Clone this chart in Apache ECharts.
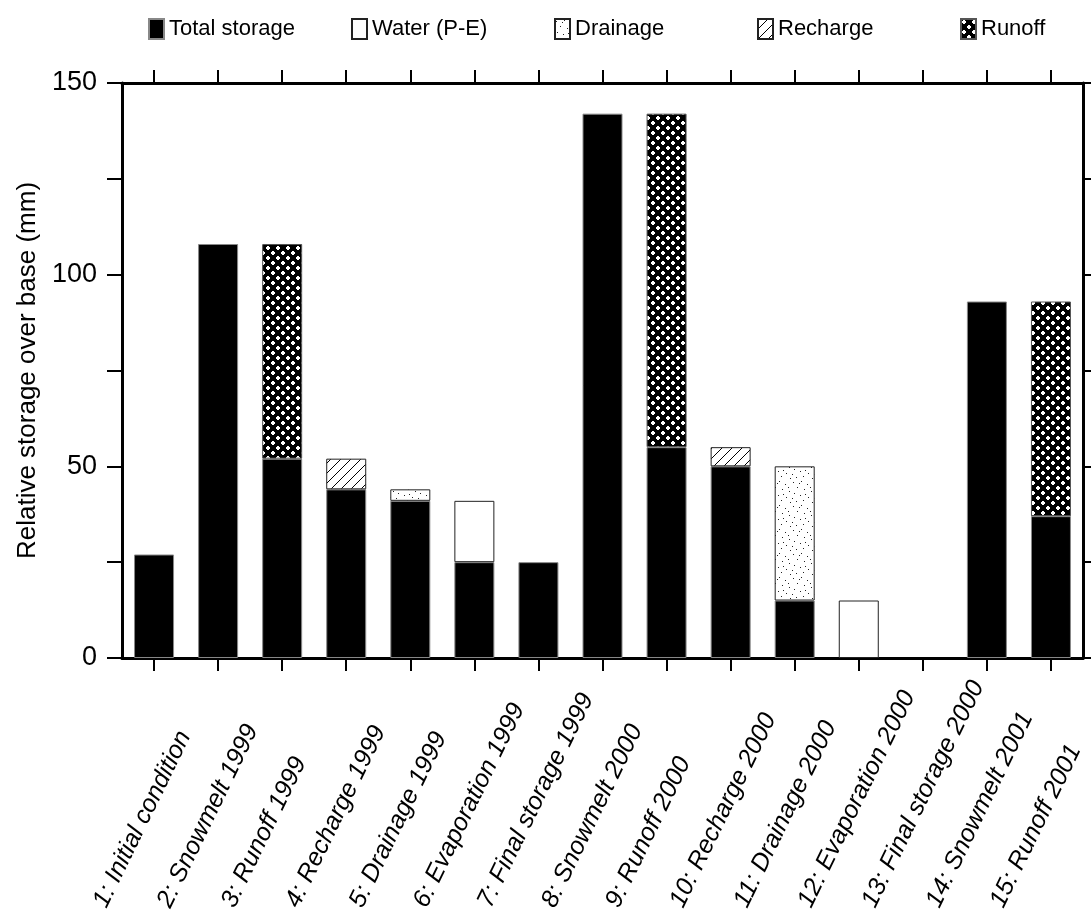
<!DOCTYPE html>
<html>
<head>
<meta charset="utf-8">
<script src="https://cdn.jsdelivr.net/npm/echarts@6/dist/echarts.min.js"></script>
<style>
  html, body { margin: 0; padding: 0; background: #fff; }
  #chart { width: 1091px; height: 919px; }
</style>
</head>
<body>
<div id="chart"></div>
<script>
// Water balance stages (mm over base storage)
const categories = [
  '1: Initial condition', '2: Snowmelt 1999', '3: Runoff 1999', '4: Recharge 1999',
  '5: Drainage 1999', '6: Evaporation 1999', '7: Final storage 1999', '8: Snowmelt 2000',
  '9: Runoff 2000', '10: Recharge 2000', '11: Drainage 2000', '12: Evaporation 2000',
  '13: Final storage 2000', '14: Snowmelt 2001', '15: Runoff 2001'
];
const seriesNames = ['Total storage', 'Water (P-E)', 'Drainage', 'Recharge', 'Runoff'];
const totalStorage = [27, 108, 52, 44, 41, 25, 25, 142, 55, 50, 15, null, null, 93, 37];
const waterPE      = [null, null, null, null, null, 16, null, null, null, null, null, 15, null, null, null];
const drainage     = [null, null, null, null, 3, null, null, null, null, null, 35, null, null, null, null];
const recharge     = [null, null, null, 8, null, null, null, null, null, 5, null, null, null, null, null];
const runoff       = [null, null, 56, null, null, null, null, null, 87, null, null, null, null, null, 56];
const yTicks = [0, 50, 100, 150];

// Fill patterns drawn on small tiles
function tile(w, h, draw) {
  const c = document.createElement('canvas');
  c.width = w; c.height = h;
  const g = c.getContext('2d');
  draw(g, w, h);
  return { image: c, repeat: 'repeat' };
}
// white diamonds on black, staggered rows
const runoffFill = tile(10, 10, (g) => {
  g.fillStyle = '#000'; g.fillRect(0, 0, 10, 10);
  g.fillStyle = '#fff';
  [[1, 1], [6, 6]].forEach(([x, y]) => {
    g.fillRect(x + 1, y, 2, 4);
    g.fillRect(x, y + 1, 4, 2);
  });
});
const rechargeFill = tile(10, 10, (g) => {
  g.fillStyle = '#fff'; g.fillRect(0, 0, 10, 10);
  g.strokeStyle = '#000'; g.lineWidth = 1;
  g.beginPath();
  g.moveTo(-1, 11); g.lineTo(11, -1);
  g.moveTo(-6, 6); g.lineTo(6, -6);
  g.moveTo(4, 16); g.lineTo(16, 4);
  g.stroke();
});
const stipple = [[1, 2], [9, 1], [15, 4], [5, 7], [12, 9], [19, 11], [2, 13], [8, 15],
                 [16, 17], [11, 20], [4, 21], [20, 22], [7, 3], [18, 7], [13, 14], [0, 18]];
const drainageFill = tile(22, 24, (g) => {
  g.fillStyle = '#fff'; g.fillRect(0, 0, 22, 24);
  g.fillStyle = '#222';
  stipple.forEach(([x, y]) => g.fillRect(x, y, 1, 1));
});

const FONT = 'Liberation Sans, Arial, sans-serif';
const barW = 40;

function barSeries(name, data, fill, border) {
  return {
    name, type: 'bar', stack: 'stage', data, barWidth: barW,
    xAxisIndex: 0, yAxisIndex: 0,
    itemStyle: { color: fill, borderColor: border, borderWidth: 1 },
    emphasis: { disabled: true }
  };
}

// one legend entry per slot, evenly spaced across the top
const legendSlot = 203;
const legends = seriesNames.map((name, i) => ({
  top: 18, left: 148 + i * legendSlot, padding: 0,
  itemWidth: 15, itemHeight: 20, icon: 'rect', selectedMode: false,
  textStyle: { fontFamily: FONT, fontSize: 22, color: '#000' },
  data: [name]
}));

const axisLine = { show: true, onZero: false, lineStyle: { color: '#000', width: 3 } };
const catTick = (len) => ({
  show: true, alignWithLabel: true, interval: 0, length: len,
  lineStyle: { color: '#000', width: 2 }
});

const chart = echarts.init(document.getElementById('chart'), null, { renderer: 'canvas' });
chart.setOption({
  animation: false,
  backgroundColor: '#fff',
  legend: legends,
  grid: [
    { left: 122, right: 8, top: 83, bottom: 261, containLabel: false },
    // companion grid carrying the slanted stage labels, set back to the left
    { left: 68, right: 62, top: 83, bottom: 261, containLabel: false }
  ],
  xAxis: [
    {
      type: 'category', data: categories, position: 'bottom', gridIndex: 0,
      axisLine, axisTick: catTick(13), axisLabel: { show: false },
      splitLine: { show: false }
    },
    {
      type: 'category', data: categories, position: 'top', gridIndex: 0,
      axisLine, axisTick: catTick(13), axisLabel: { show: false },
      splitLine: { show: false }
    },
    {
      type: 'category', data: categories, position: 'bottom', gridIndex: 1,
      axisLine: { show: false }, axisTick: { show: false },
      axisLabel: {
        interval: 0, rotate: 64, margin: 248, align: 'left', verticalAlign: 'middle',
        fontFamily: FONT, fontSize: 25, fontStyle: 'italic', color: '#000'
      },
      splitLine: { show: false }
    }
  ],
  yAxis: [
    {
      type: 'value', min: 0, max: 150, interval: 25, position: 'left', gridIndex: 0,
      name: 'Relative storage over base (mm)', nameLocation: 'middle', nameGap: 77,
      nameTextStyle: { fontFamily: FONT, fontSize: 26, color: '#000' },
      axisLine,
      axisTick: { show: true, length: 15, lineStyle: { color: '#000', width: 2 } },
      axisLabel: {
        margin: 25, fontFamily: FONT, fontSize: 27, color: '#000',
        formatter: (v) => (yTicks.includes(v) ? String(v) : '')
      },
      splitLine: { show: false }
    },
    {
      type: 'value', min: 0, max: 150, interval: 25, position: 'right', gridIndex: 0,
      axisLine,
      axisTick: { show: true, length: 8, lineStyle: { color: '#000', width: 2 } },
      axisLabel: { show: false },
      splitLine: { show: false }
    },
    {
      type: 'value', min: 0, max: 150, gridIndex: 1, show: false
    }
  ],
  series: [
    barSeries(seriesNames[0], totalStorage, '#000', '#888'),
    barSeries(seriesNames[1], waterPE, '#fff', '#222'),
    barSeries(seriesNames[2], drainage, drainageFill, '#222'),
    barSeries(seriesNames[3], recharge, rechargeFill, '#222'),
    barSeries(seriesNames[4], runoff, runoffFill, '#555')
  ]
});
</script>
</body>
</html>
